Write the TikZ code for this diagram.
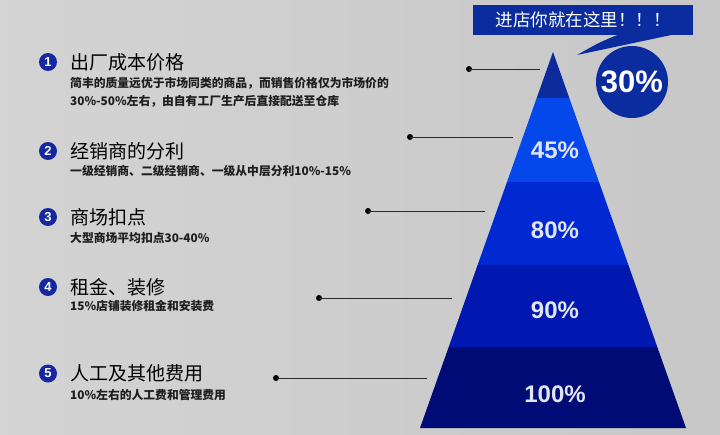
\documentclass[tikz,border=0pt]{standalone}
\usepackage{fontspec}
\setmainfont{Noto Sans CJK SC}
\newfontfamily\arial{Liberation Sans}
\definecolor{bandA}{HTML}{0B2A9C}
\definecolor{bandB}{HTML}{0448EC}
\definecolor{bandC}{HTML}{0129D2}
\definecolor{bandD}{HTML}{0118B0}
\definecolor{bandE}{HTML}{000B76}
\definecolor{navy}{HTML}{0B2C9E}
\definecolor{numblue}{HTML}{1628A0}
\definecolor{pctc}{HTML}{E2E6F2}
\definecolor{txt}{HTML}{1E1E1E}
\definecolor{linec}{HTML}{2A2A2A}
\tikzset{
  band/.style={draw=none},
  pct/.style={font=\arial\bfseries\fontsize{24}{24}\selectfont, text=pctc, inner sep=0pt},
  numc/.style={circle, fill=numblue, text=white, inner sep=0pt, minimum size=18pt, font=\arial\bfseries\fontsize{13}{13}\selectfont},
  ttl/.style={anchor=west, inner sep=0pt, text=black, font=\fontsize{19}{19}\selectfont},
  sub/.style={anchor=west, inner sep=0pt, text=txt, font=\bfseries\fontsize{11.8}{18}\selectfont, align=left},
  dotc/.style={circle, fill=black, inner sep=0pt, minimum size=6pt},
  lead/.style={draw=linec, line width=1pt},
}
\begin{document}
\begin{tikzpicture}[x=1pt,y=-1pt]
\useasboundingbox (0,0) rectangle (720,434);
\fill[left color=black!17, middle color=black!3, right color=black!22] (0,0) rectangle (720,434);
% pyramid bands: apex (553,52), half-width slope 0.354
\fill[bandA] (553,52) -- (569.3,98) -- (536.7,98) -- cycle;
\fill[bandB] (536.7,98) -- (569.3,98) -- (599,182) -- (507,182) -- cycle;
\fill[bandC] (507,182) -- (599,182) -- (628.4,265) -- (477.6,265) -- cycle;
\fill[bandD] (477.6,265) -- (628.4,265) -- (657.3,347) -- (448.7,347) -- cycle;
\fill[bandE] (448.7,347) -- (657.3,347) -- (686,428) -- (420,428) -- cycle;
\node[pct] (p45) at (555,150) {45\%};
\node[pct] (p80) at (555,230) {80\%};
\node[pct] (p90) at (555,310) {90\%};
\node[pct] (p100) at (555,394) {100\%};
% callout
\fill[navy] (473,5) rectangle (693,35);
\fill[navy] (620,34) .. controls (600,42) .. (577,55) -- (676,34) -- cycle;
\node[inner sep=0pt, text=white, font=\fontsize{17.5}{17.5}\selectfont] (call) at (583,20) {进店你就在这里！！！};
\node[circle, fill=navy, minimum size=72pt, inner sep=0pt, text=white, font=\arial\bfseries\fontsize{31}{31}\selectfont] (c30) at (632,82) {30\%};
% items
\node[numc] (n1) at (48,62) {1};
\node[ttl] (t1) at (70,62) {出厂成本价格};
\node[sub] (s1) at (70,92) {简丰的质量远优于市场同类的商品，而销售价格仅为市场价的\\30\%-50\%左右，由自有工厂生产后直接配送至仓库};
\node[numc] (n2) at (48,151) {2};
\node[ttl] (t2) at (70,151) {经销商的分利};
\node[sub] (s2) at (70,171) {一级经销商、二级经销商、一级从中层分利10\%-15\%};
\node[numc] (n3) at (48,217) {3};
\node[ttl] (t3) at (70,217) {商场扣点};
\node[sub] (s3) at (70,237.5) {大型商场平均扣点30-40\%};
\node[numc] (n4) at (48,287) {4};
\node[ttl] (t4) at (70,287) {租金、装修};
\node[sub] (s4) at (70,306) {15\%店铺装修租金和安装费};
\node[numc] (n5) at (48,373.5) {5};
\node[ttl] (t5) at (70,373.5) {人工及其他费用};
\node[sub] (s5) at (70,395) {10\%左右的人工费和管理费用};
% leader lines
\node[dotc] (d1) at (469,69) {};
\coordinate (e1) at (540,69);
\node[dotc] (d2) at (410,137) {};
\coordinate (e2) at (513,137);
\node[dotc] (d3) at (368,211) {};
\coordinate (e3) at (485,211);
\node[dotc] (d4) at (319,298) {};
\coordinate (e4) at (452,298);
\node[dotc] (d5) at (276,378) {};
\coordinate (e5) at (427,378);
\draw[lead] (d1.center) -- (e1);
\draw[lead] (d2.center) -- (e2);
\draw[lead] (d3.center) -- (e3);
\draw[lead] (d4.center) -- (e4);
\draw[lead] (d5.center) -- (e5);
\end{tikzpicture}
\end{document}
